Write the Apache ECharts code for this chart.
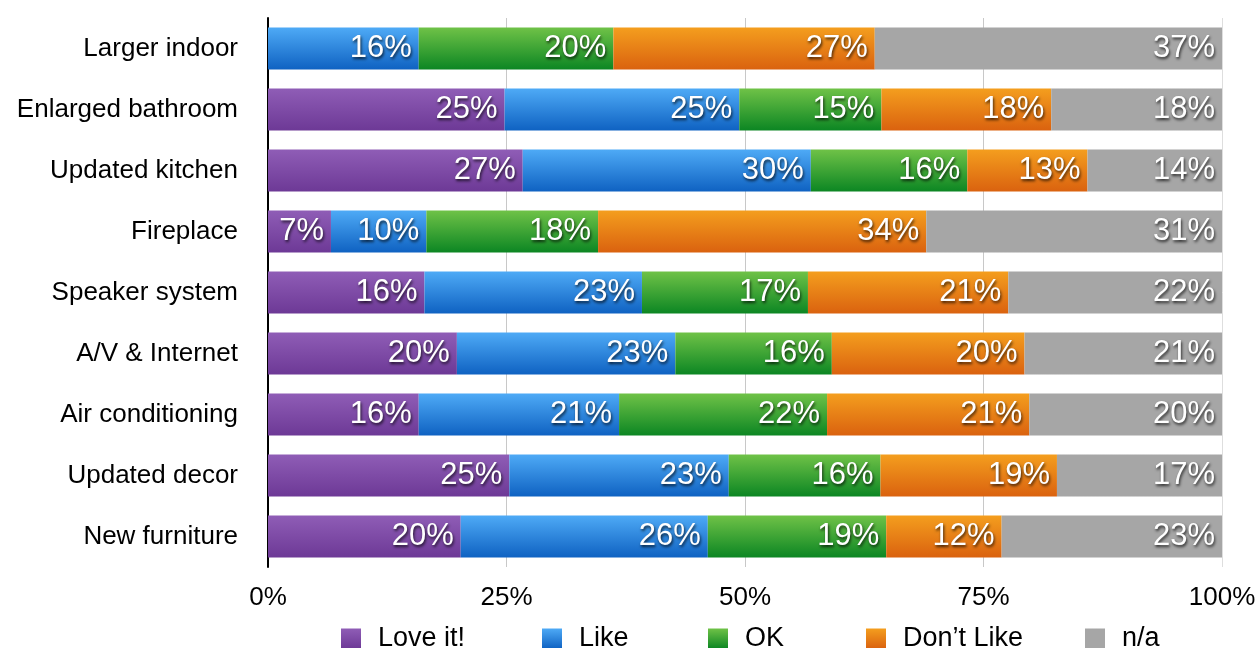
<!DOCTYPE html>
<html>
<head>
<meta charset="utf-8">
<script src="https://cdn.jsdelivr.net/npm/echarts@6/dist/echarts.min.js"></script>
<style>html,body{margin:0;padding:0;background:#fff}#c{width:1260px;height:648px}</style>
</head>
<body>
<div id="c"></div>
<script>
const categories = ['Larger indoor','Enlarged bathroom','Updated kitchen','Fireplace','Speaker system','A/V & Internet','Air conditioning','Updated decor','New furniture'];
const seriesNames = ['Love it!','Like','OK','Don\u2019t Like','n/a'];
const loveIt   = [0,    24.8, 26.7, 6.6,  16.4, 19.8, 15.8, 25.3, 20.2];
const like     = [15.8, 24.6, 30.2, 10.0, 22.8, 22.9, 21.0, 23.0, 25.9];
const ok       = [20.4, 14.9, 16.4, 18.0, 17.4, 16.4, 21.8, 15.9, 18.7];
const dontLike = [27.4, 17.8, 12.6, 34.4, 21.0, 20.2, 21.2, 18.5, 12.1];
const na       = [36.6, 17.9, 14.1, 31.0, 22.4, 20.7, 20.2, 17.3, 23.1];
const xTicks = [0, 25, 50, 75, 100];
const legendLeft = [336, 537, 703, 861, 1080];

const colors = [
  ['#8f5db6','#6d3996'],
  ['#4eaaf6','#0f62c2'],
  ['#6fc247','#0c8623'],
  ['#f49e1e','#da620f'],
  ['#a6a6a6','#a6a6a6']
];
const grad = (c) => new echarts.graphic.LinearGradient(0,0,0,1,[{offset:0,color:c[0]},{offset:1,color:c[1]}]);
const dataSets = [loveIt, like, ok, dontLike, na];
const FONT = '"Liberation Sans", Arial, Helvetica, sans-serif';

const chart = echarts.init(document.getElementById('c'));
chart.setOption({
  animation: false,
  color: colors.map(c => c[0]),
  grid: {left: 268, right: 38, top: 18, bottom: 81, containLabel: false},
  xAxis: {
    type: 'value', min: 0, max: 100, interval: 25,
    axisLine: {show: false}, axisTick: {show: false},
    axisLabel: {formatter: v => xTicks.includes(v) ? v + '%' : '', color: '#000', fontSize: 26, fontFamily: FONT, margin: 18},
    splitLine: {show: true, lineStyle: {color: ['#c8c8c8','#c8c8c8','#c8c8c8','#c8c8c8','#dedede'], width: 1}}
  },
  yAxis: {
    type: 'category', data: categories, inverse: true,
    axisLine: {show: true, lineStyle: {color: '#000', width: 2}},
    axisTick: {show: false},
    axisLabel: {color: '#000', fontSize: 26, fontFamily: FONT, margin: 30}
  },
  legend: seriesNames.map((name, i) => ({
    data: [name], left: legendLeft[i], top: 620,
    itemWidth: 20, itemHeight: 20, icon: 'rect',
    textStyle: {color: '#000', fontSize: 27, fontFamily: FONT, padding: [0,0,0,12]}
  })),
  series: seriesNames.map((name, i) => ({
    name, type: 'bar', stack: 'total', barWidth: 42,
    itemStyle: {color: grad(colors[i])},
    label: {
      show: true, position: 'insideRight', distance: 7,
      formatter: p => p.value > 0 ? Math.round(p.value) + '%' : '',
      color: '#fff', fontSize: 31, fontFamily: FONT,
      textShadowColor: 'rgba(0,0,0,0.75)', textShadowBlur: 3, textShadowOffsetX: 1, textShadowOffsetY: 2
    },
    data: dataSets[i]
  }))
});
</script>
</body>
</html>
